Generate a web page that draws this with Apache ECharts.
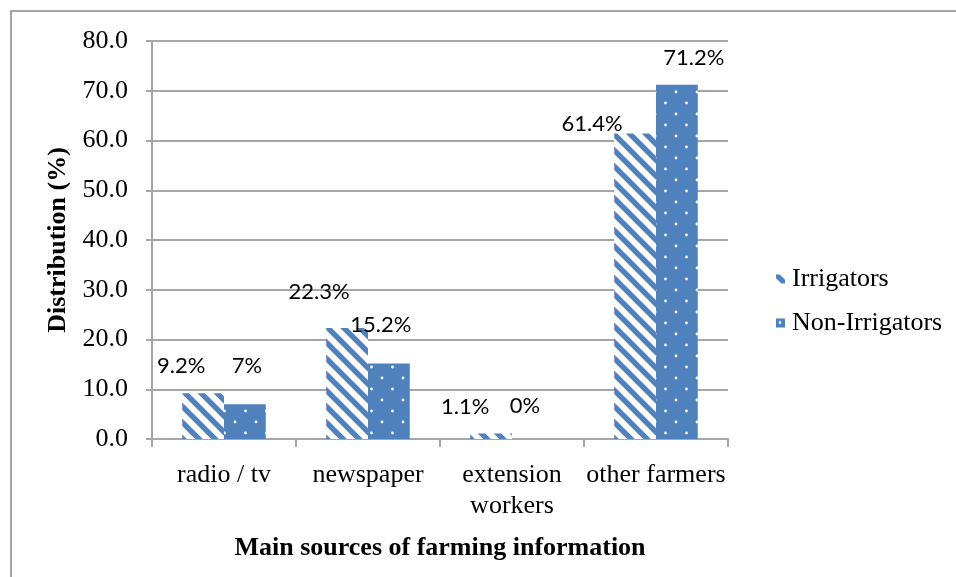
<!DOCTYPE html>
<html>
<head>
<meta charset="utf-8">
<script src="https://cdn.jsdelivr.net/npm/echarts@6/dist/echarts.min.js"></script>
<style>
  html, body { margin: 0; padding: 0; background: #fff; }
  #chart { width: 956px; height: 577px; }
</style>
</head>
<body>
<div id="chart"></div>
<script>
// Farming information sources, share of respondents (%)
const categories = ['radio / tv', 'newspaper', 'extension\nworkers', 'other farmers'];
const irrigators = [9.2, 22.3, 1.1, 61.4];
const nonIrrigators = [7, 15.2, 0, 71.2];
const yTicks = { min: 0, max: 80, interval: 10 };

// Manual nudges for the value labels [dx, dy]
const irrigatorLabelShift = [[-22, -11], [-28, -20], [-26, -11], [-43, 6]];
const nonIrrigatorLabelShift = [[2, -22], [-8, -22], [-8, -17], [17, -11]];

const BLUE = '#4f81bd';
const SERIF = '"Liberation Serif", "Times New Roman", serif';
const SANS = 'Lato, "Liberation Sans", Arial, sans-serif';

// Wide downward-diagonal stripes
function stripeTile() {
  const s = 16;
  const c = document.createElement('canvas');
  c.width = s; c.height = s;
  const g = c.getContext('2d');
  g.fillStyle = '#fff';
  g.fillRect(0, 0, s, s);
  g.strokeStyle = BLUE;
  g.lineWidth = 5.4;
  for (const k of [-s, 0, s]) {
    g.beginPath();
    g.moveTo(k - 2, -2);
    g.lineTo(k + s + 2, s + 2);
    g.stroke();
  }
  return c;
}

// Solid fill with staggered white dots
function dotTile() {
  const w = 21, h = 22;
  const c = document.createElement('canvas');
  c.width = w; c.height = h;
  const g = c.getContext('2d');
  g.fillStyle = BLUE;
  g.fillRect(0, 0, w, h);
  g.fillStyle = 'rgba(255,255,255,0.95)';
  for (const [x, y] of [[4, 4], [14.5, 15]]) {
    g.beginPath();
    g.arc(x, y, 1.4, 0, Math.PI * 2);
    g.fill();
  }
  return c;
}

const stripeFill = { image: stripeTile(), repeat: 'repeat' };
const dotFill = { image: dotTile(), repeat: 'repeat' };

function withLabels(values, shifts) {
  return values.map((v, i) => ({
    value: v,
    label: { offset: shifts[i] }
  }));
}

const chart = echarts.init(document.getElementById('chart'), null, { renderer: 'canvas' });

const valueLabel = {
  show: true, position: 'top', distance: 5,
  fontFamily: SANS, fontSize: 22, color: '#000',
  formatter: p => p.value + '%'
};

chart.setOption({
  backgroundColor: '#fff',
  animation: false,
  graphic: [
    {
      type: 'polyline',
      shape: { points: [[11, 577], [11, 11], [956, 11]] },
      style: { stroke: '#a6a6a6', lineWidth: 2, fill: null },
      silent: true
    }
  ],
  grid: { left: 152, right: 228, top: 41, bottom: 138 },
  legend: {
    orient: 'vertical',
    left: 771,
    top: 261,
    itemWidth: 9,
    itemHeight: 9,
    itemGap: 18,
    icon: 'rect',
    textStyle: { fontFamily: SERIF, fontSize: 26, color: '#000', padding: [0, 0, 0, 2] },
    data: ['Irrigators', 'Non-Irrigators']
  },
  xAxis: {
    type: 'category',
    data: categories,
    name: 'Main sources of farming information',
    nameLocation: 'middle',
    nameGap: 96,
    nameTextStyle: { fontFamily: SERIF, fontSize: 26, fontWeight: 'bold', color: '#000' },
    axisLine: { lineStyle: { color: '#a6a6a6', width: 2 } },
    axisTick: { show: true, interval: 0, length: 8, lineStyle: { color: '#a6a6a6', width: 2 } },
    axisLabel: { interval: 0, fontFamily: SERIF, fontSize: 26, color: '#000', margin: 21, lineHeight: 31 }
  },
  yAxis: {
    type: 'value',
    min: yTicks.min,
    max: yTicks.max,
    interval: yTicks.interval,
    name: 'Distribution (%)',
    nameLocation: 'middle',
    nameGap: 79,
    nameTextStyle: { fontFamily: SERIF, fontSize: 26, fontWeight: 'bold', color: '#000' },
    axisLine: { show: true, lineStyle: { color: '#a6a6a6', width: 2 } },
    axisTick: { show: true, length: 6, lineStyle: { color: '#a6a6a6', width: 2 } },
    splitLine: { lineStyle: { color: '#a6a6a6', width: 2 } },
    axisLabel: {
      fontFamily: SERIF, fontSize: 26, color: '#000', margin: 24,
      formatter: v => v.toFixed(1)
    }
  },
  series: [
    {
      name: 'Irrigators',
      type: 'bar',
      data: withLabels(irrigators, irrigatorLabelShift),
      barGap: '0%',
      barCategoryGap: '42%',
      itemStyle: { color: stripeFill },
      label: valueLabel
    },
    {
      name: 'Non-Irrigators',
      type: 'bar',
      data: withLabels(nonIrrigators, nonIrrigatorLabelShift),
      barGap: '0%',
      barCategoryGap: '42%',
      itemStyle: { color: dotFill },
      label: valueLabel
    }
  ]
});
</script>
</body>
</html>
